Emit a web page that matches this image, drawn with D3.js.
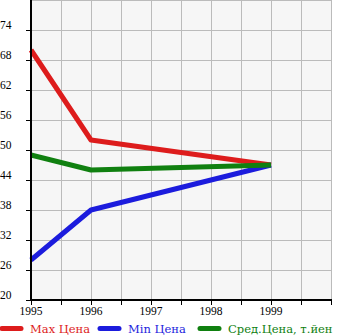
<!DOCTYPE html>
<html><head><meta charset="utf-8">
<script src="https://cdn.jsdelivr.net/npm/d3@7"></script>
<style>body{margin:0;background:#fff}svg{display:block}</style>
</head><body><svg id="c" width="345" height="335"></svg>
<script>
const years = [1995, 1996, 1999];
const maxPrice = [70, 52, 47];
const minPrice = [28, 38, 47];
const avgPrice = [49, 46, 47];
const yTicks = [20, 26, 32, 38, 44, 50, 56, 62, 68, 74];
const xTicks = [1995, 1996, 1997, 1998, 1999];
const seriesNames = ["Max Цена", "Min Цена", "Сред.Цена, т.йен"];
const seriesColors = ["#dd1c1c", "#1c1cdd", "#108010"];

(function () {
const svg = d3.select("#c");
const pl = 31, pr = 331, pt = 0, pb = 300;
const x = d3.scaleLinear().domain([1995, 2000]).range([pl, pr]);
const y = d3.scaleLinear().domain([20, 80]).range([pb, pt]);
const font = "'Liberation Serif','DejaVu Serif',serif";
const legendFont = "'DejaVu Serif',serif";

svg.append("rect").attr("x", pl).attr("y", pt).attr("width", pr - pl).attr("height", pb - pt).attr("fill", "#f6f6f6");

// grid
const gx = d3.range(1995, 2000.01, 0.5);
svg.append("g").selectAll("line").data(gx).join("line")
  .attr("x1", d => x(d) + 0.5).attr("x2", d => x(d) + 0.5).attr("y1", pt).attr("y2", pb)
  .attr("stroke", "#bbbbbb").attr("stroke-width", 1);
const gy = d3.range(20, 80.01, 6);
svg.append("g").selectAll("line").data(gy.concat([80])).join("line")
  .attr("x1", pl).attr("x2", pr + 0.5).attr("y1", d => y(d) + 0.5).attr("y2", d => y(d) + 0.5)
  .attr("stroke", "#bbbbbb").attr("stroke-width", 1);

// price lines
const line = d3.line().x(d => x(d[0])).y(d => y(d[1]));
[maxPrice, minPrice, avgPrice].forEach((vals, i) => {
  svg.append("path").datum(years.map((yr, j) => [yr, vals[j]]))
    .attr("d", line).attr("fill", "none").attr("stroke", seriesColors[i])
    .attr("stroke-width", 5).attr("stroke-linejoin", "round");
});

// axes
svg.append("line").attr("x1", pl).attr("x2", pl).attr("y1", pt).attr("y2", pb + 1).attr("stroke", "#000").attr("stroke-width", 2);
svg.append("line").attr("x1", pl - 1).attr("x2", pr + 1).attr("y1", pb).attr("y2", pb).attr("stroke", "#000").attr("stroke-width", 2);

// y ticks
svg.append("g").selectAll("line").data(yTicks).join("line")
  .attr("x1", pl - 5).attr("x2", pl).attr("y1", d => y(d) + 0.5).attr("y2", d => y(d) + 0.5)
  .attr("stroke", "#000");
svg.append("g").selectAll("text").data(yTicks).join("text")
  .attr("x", 0).attr("y", d => y(d) - 1)
  .attr("font-family", font).attr("font-size", 11.5).attr("fill", "#000")
  .text(d => d);

// x ticks
svg.append("g").selectAll("line").data(gx).join("line")
  .attr("x1", d => x(d) + 0.5).attr("x2", d => x(d) + 0.5).attr("y1", pb).attr("y2", pb + 5)
  .attr("stroke", "#000");
svg.append("g").selectAll("text").data(xTicks).join("text")
  .attr("x", d => x(d)).attr("y", 315).attr("text-anchor", "middle")
  .attr("font-family", font).attr("font-size", 11.5).attr("fill", "#000")
  .text(d => d);

// legend
const legendX = [0, 98, 198];
seriesNames.forEach((name, i) => {
  svg.append("line").attr("x1", legendX[i] + 2).attr("x2", legendX[i] + 21).attr("y1", 328.5).attr("y2", 328.5)
    .attr("stroke", seriesColors[i]).attr("stroke-width", 5).attr("stroke-linecap", "round");
  svg.append("text").attr("x", legendX[i] + 30).attr("y", 333)
    .attr("font-family", legendFont).attr("font-size", 11.5).attr("fill", seriesColors[i])
    .text(name);
});
})();
</script></body></html>
